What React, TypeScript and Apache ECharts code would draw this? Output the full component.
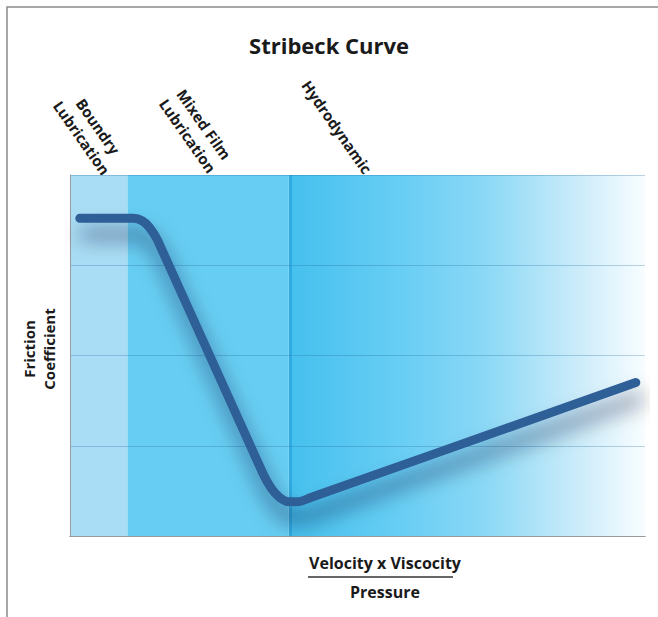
import React, { useEffect, useRef } from "react";
import * as echarts from "echarts";

const titleText = "Stribeck Curve";
const regionNames = ["Boundry\nLubrication", "Mixed Film\nLubrication", "Hydrodynamic"];
const regionBounds = [0, 10, 38, 100];
const yTicks = [0, 1, 2, 3, 4];
const curveX = [1.7, 11.0, 12.6, 13.8, 15.2, 33.5, 35.0, 36.4, 38.0, 39.6, 42.0, 98.4];
const curveY = [3.52, 3.52, 3.49, 3.42, 3.28, 0.7, 0.53, 0.43, 0.38, 0.38, 0.43, 1.7];
const yAxisName = "Friction\nCoefficient";
const xAxisTop = "Velocity x Viscocity";
const xAxisBottom = "Pressure";

const FONT = "Open Sans";

export default function App() {
  const ref = useRef<HTMLDivElement>(null);
  useEffect(() => {
    if (!ref.current) return;
    const chart = echarts.init(ref.current, null, { renderer: "svg" });
    const curveData = curveX.map((x, i) => [x, curveY[i]]);
    const hydroGrad = new echarts.graphic.LinearGradient(0, 0, 1, 0, [
      { offset: 0, color: "#45c0ee" },
      { offset: 0.3, color: "#66cdf4" },
      { offset: 0.55, color: "#8ad8f6" },
      { offset: 0.8, color: "#c8ebfa" },
      { offset: 1, color: "#f8fdff" },
    ]);
    const regionColors: any[] = ["#a9ddf6", "#67cdf3", hydroGrad];
    const labelPos = [
      [90, 132],
      [196, 130],
      [337, 127],
    ];
    chart.setOption({
      animation: false,
      title: {
        text: titleText,
        left: "center",
        top: 29,
        textStyle: { fontFamily: FONT, fontWeight: "bold", fontSize: 22, color: "#1a1a1a" },
      },
      grid: { left: 70, top: 175, right: 13, bottom: 81 },
      xAxis: [
        {
          type: "value",
          min: 0,
          max: 100,
          axisLine: { show: true, lineStyle: { color: "#9a9a9a", width: 1 } },
          axisTick: { show: false },
          axisLabel: { show: false },
          splitLine: { show: false },
          z: 4,
        },
        {
          type: "value",
          position: "top",
          min: 0,
          max: 100,
          axisLine: { show: true, lineStyle: { color: "#9a9a9a", width: 1 } },
          axisTick: { show: false },
          axisLabel: { show: false },
          splitLine: { show: false },
          z: 4,
        },
      ],
      yAxis: [
        {
          type: "value",
          min: yTicks[0],
          max: yTicks[yTicks.length - 1],
          interval: 1,
          axisLine: { show: false },
          axisTick: { show: false },
          axisLabel: { show: false },
          splitLine: { show: true, lineStyle: { color: "rgba(30,100,150,0.28)", width: 1 } },
          z: 2,
        },
        {
          type: "value",
          position: "right",
          min: yTicks[0],
          max: yTicks[yTicks.length - 1],
          interval: 1,
          axisLine: { show: true, lineStyle: { color: "#9a9a9a", width: 1 } },
          axisTick: { show: false },
          axisLabel: { show: false },
          splitLine: { show: false },
          z: 4,
        },
      ],
      series: [
        {
          type: "line",
          data: [],
          z: 1,
          markArea: {
            silent: true,
            label: { show: false },
            data: regionNames.map((n, i) => [
              { name: n, xAxis: regionBounds[i], yAxis: yTicks[0], itemStyle: { color: regionColors[i], opacity: 1 } },
              { xAxis: regionBounds[i + 1], yAxis: yTicks[yTicks.length - 1] },
            ]),
          },
          markLine: {
            silent: true,
            symbol: "none",
            label: { show: false },
            lineStyle: { color: "rgba(30,150,210,0.5)", width: 3, type: "solid" },
            data: [{ xAxis: regionBounds[2] + 0.3 }],
          },
        },
        {
          type: "line",
          data: curveData,
          smooth: 0.35,
          symbol: "none",
          z: 5,
          lineStyle: {
            color: "#2f5e96",
            width: 9,
            cap: "round",
            join: "round",
            shadowColor: "rgba(0,10,40,0.55)",
            shadowBlur: 20,
            shadowOffsetX: 4,
            shadowOffsetY: 16,
          },
        },
      ],
      graphic: [
        {
          type: "polyline",
          shape: { points: [[7, 617], [7, 7], [658, 7]] },
          style: { stroke: "#8a8a8a", lineWidth: 1.5, fill: "none" },
          silent: true,
        },
        ...regionNames.map((n, i) => ({
          type: "text",
          x: labelPos[i][0],
          y: labelPos[i][1],
          rotation: (-55 * Math.PI) / 180,
          style: {
            text: n,
            fontFamily: FONT,
            fontWeight: "bold",
            fontSize: 15,
            lineHeight: 20,
            fill: "#1a1a1a",
            align: "center",
            verticalAlign: "middle",
          },
        })),
        {
          type: "text",
          x: 39,
          y: 349,
          rotation: Math.PI / 2,
          style: {
            text: yAxisName,
            fontFamily: FONT,
            fontWeight: "bold",
            fontSize: 15,
            lineHeight: 20,
            fill: "#1a1a1a",
            align: "center",
            verticalAlign: "middle",
          },
        },
        {
          type: "text",
          x: 385,
          y: 563,
          style: {
            text: xAxisTop,
            fontFamily: FONT,
            fontWeight: "bold",
            fontSize: 16,
            fill: "#1a1a1a",
            align: "center",
            verticalAlign: "middle",
          },
        },
        {
          type: "line",
          shape: { x1: 308, y1: 577, x2: 453, y2: 577 },
          style: { stroke: "#333", lineWidth: 1.5 },
        },
        {
          type: "text",
          x: 385,
          y: 592,
          style: {
            text: xAxisBottom,
            fontFamily: FONT,
            fontWeight: "bold",
            fontSize: 16,
            fill: "#1a1a1a",
            align: "center",
            verticalAlign: "middle",
          },
        },
      ],
    });
    return () => chart.dispose();
  }, []);
  return (
    <div
      ref={ref}
      style={{ position: "absolute", left: 0, top: 0, width: 658, height: 617, background: "#fff" }}
    />
  );
}
